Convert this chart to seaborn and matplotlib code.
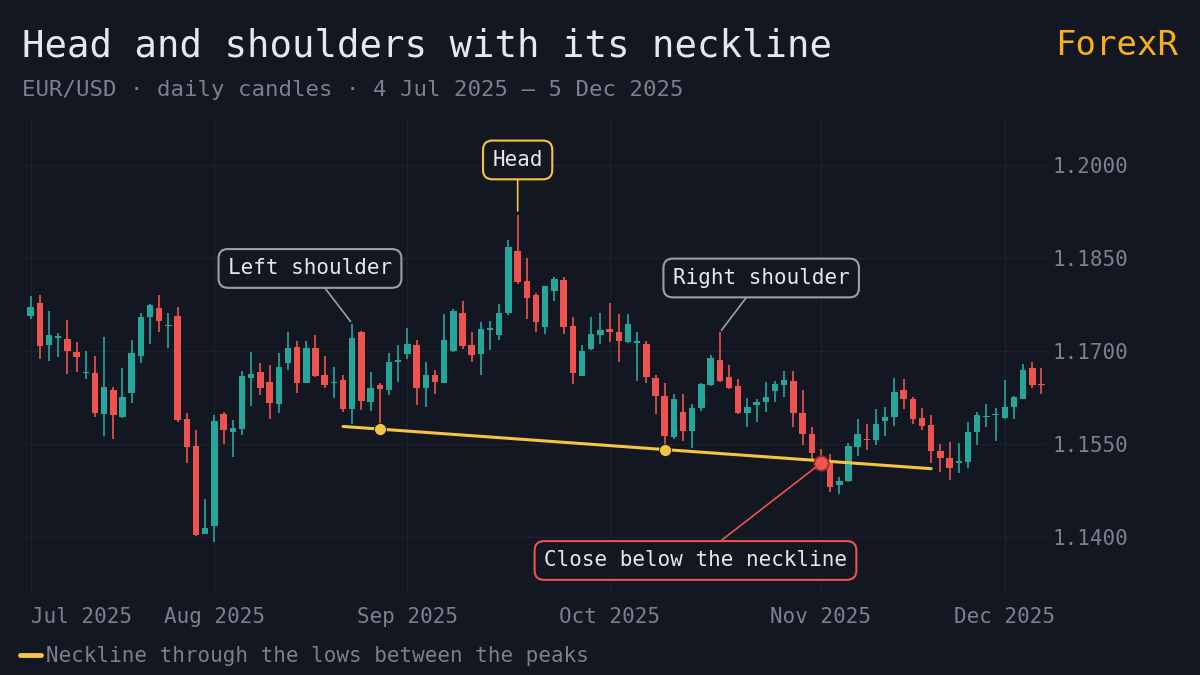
import numpy as np
import pandas as pd
import seaborn as sns
import matplotlib
matplotlib.use("Agg")
import matplotlib.pyplot as plt
from matplotlib.lines import Line2D

# EUR/USD daily candles, 4 Jul 2025 - 5 Dec 2025 (weekdays)
opens = [1.1756, 1.1778, 1.1709, 1.1721, 1.1719, 1.1699, 1.1664, 1.1665, 1.1598, 1.1637,
         1.1593, 1.1633, 1.1692, 1.1754, 1.1770, 1.1740, 1.1756, 1.1591, 1.1547, 1.1405,
         1.1417, 1.1598, 1.1570, 1.1574, 1.1657, 1.1666, 1.1650, 1.1615, 1.1680, 1.1706,
         1.1649, 1.1704, 1.1661, 1.1648, 1.1653, 1.1606, 1.1730, 1.1618, 1.1645, 1.1637,
         1.1683, 1.1695, 1.1710, 1.1641, 1.1662, 1.1649, 1.1700, 1.1762, 1.1710, 1.1695,
         1.1734, 1.1726, 1.1762, 1.1861, 1.1813, 1.1790, 1.1739, 1.1797, 1.1815, 1.1740,
         1.1660, 1.1703, 1.1726, 1.1735, 1.1731, 1.1714, 1.1713, 1.1711, 1.1656, 1.1627,
         1.1561, 1.1602, 1.1571, 1.1608, 1.1645, 1.1685, 1.1658, 1.1644, 1.1600, 1.1613,
         1.1617, 1.1635, 1.1645, 1.1652, 1.1600, 1.1566, 1.1531, 1.1521, 1.1484, 1.1490,
         1.1545, 1.1558, 1.1556, 1.1587, 1.1593, 1.1637, 1.1623, 1.1592, 1.1581, 1.1539,
         1.1527, 1.1520, 1.1521, 1.1570, 1.1593, 1.1596, 1.1592, 1.1610, 1.1623, 1.1672,
         1.1647]
highs = [1.1789, 1.1791, 1.1765, 1.1729, 1.1750, 1.1715, 1.1700, 1.1692, 1.1722, 1.1642,
         1.1672, 1.1717, 1.1761, 1.1776, 1.1790, 1.1762, 1.1771, 1.1600, 1.1573, 1.1461,
         1.1597, 1.1602, 1.1588, 1.1668, 1.1699, 1.1680, 1.1677, 1.1697, 1.1730, 1.1716,
         1.1716, 1.1726, 1.1692, 1.1674, 1.1662, 1.1744, 1.1733, 1.1666, 1.1648, 1.1697,
         1.1709, 1.1737, 1.1718, 1.1682, 1.1669, 1.1760, 1.1767, 1.1781, 1.1731, 1.1746,
         1.1748, 1.1775, 1.1879, 1.1919, 1.1850, 1.1793, 1.1805, 1.1820, 1.1820, 1.1755,
         1.1709, 1.1754, 1.1761, 1.1778, 1.1759, 1.1759, 1.1731, 1.1716, 1.1661, 1.1648,
         1.1631, 1.1630, 1.1615, 1.1648, 1.1694, 1.1730, 1.1677, 1.1655, 1.1624, 1.1622,
         1.1650, 1.1652, 1.1668, 1.1667, 1.1637, 1.1577, 1.1542, 1.1534, 1.1497, 1.1552,
         1.1591, 1.1582, 1.1606, 1.1609, 1.1656, 1.1654, 1.1625, 1.1608, 1.1597, 1.1550,
         1.1553, 1.1551, 1.1586, 1.1601, 1.1615, 1.1608, 1.1653, 1.1627, 1.1679, 1.1682,
         1.1672]
lows = [1.1751, 1.1687, 1.1684, 1.1691, 1.1663, 1.1666, 1.1654, 1.1594, 1.1563, 1.1558,
        1.1592, 1.1616, 1.1680, 1.1711, 1.1731, 1.1704, 1.1586, 1.1519, 1.1402, 1.1404,
        1.1392, 1.1550, 1.1529, 1.1565, 1.1611, 1.1629, 1.1590, 1.1600, 1.1669, 1.1632,
        1.1648, 1.1658, 1.1640, 1.1624, 1.1601, 1.1583, 1.1604, 1.1603, 1.1574, 1.1629,
        1.1650, 1.1687, 1.1613, 1.1609, 1.1631, 1.1648, 1.1699, 1.1703, 1.1683, 1.1661,
        1.1702, 1.1717, 1.1758, 1.1808, 1.1751, 1.1730, 1.1727, 1.1780, 1.1727, 1.1646,
        1.1659, 1.1702, 1.1712, 1.1715, 1.1683, 1.1713, 1.1652, 1.1649, 1.1598, 1.1541,
        1.1558, 1.1555, 1.1543, 1.1603, 1.1644, 1.1650, 1.1639, 1.1599, 1.1578, 1.1586,
        1.1602, 1.1618, 1.1626, 1.1578, 1.1548, 1.1525, 1.1508, 1.1473, 1.1470, 1.1489,
        1.1530, 1.1540, 1.1548, 1.1563, 1.1579, 1.1606, 1.1583, 1.1573, 1.1519, 1.1505,
        1.1492, 1.1503, 1.1512, 1.1548, 1.1577, 1.1555, 1.1591, 1.1591, 1.1622, 1.1641,
        1.1630]
closes = [1.1771, 1.1708, 1.1726, 1.1723, 1.1700, 1.1691, 1.1666, 1.1600, 1.1642, 1.1596,
          1.1626, 1.1696, 1.1754, 1.1774, 1.1749, 1.1742, 1.1588, 1.1545, 1.1403, 1.1414,
          1.1587, 1.1573, 1.1575, 1.1660, 1.1663, 1.1641, 1.1616, 1.1674, 1.1705, 1.1648,
          1.1705, 1.1660, 1.1645, 1.1650, 1.1606, 1.1721, 1.1620, 1.1641, 1.1638, 1.1683,
          1.1685, 1.1712, 1.1641, 1.1661, 1.1650, 1.1718, 1.1765, 1.1708, 1.1694, 1.1735,
          1.1736, 1.1762, 1.1867, 1.1811, 1.1785, 1.1746, 1.1804, 1.1816, 1.1738, 1.1665,
          1.1700, 1.1727, 1.1734, 1.1730, 1.1716, 1.1743, 1.1715, 1.1658, 1.1628, 1.1563,
          1.1623, 1.1571, 1.1608, 1.1647, 1.1688, 1.1652, 1.1641, 1.1600, 1.1610, 1.1618,
          1.1625, 1.1646, 1.1653, 1.1600, 1.1566, 1.1536, 1.1519, 1.1481, 1.1491, 1.1547,
          1.1566, 1.1556, 1.1582, 1.1594, 1.1634, 1.1622, 1.1591, 1.1579, 1.1538, 1.1528,
          1.1512, 1.1522, 1.1569, 1.1596, 1.1595, 1.1598, 1.1609, 1.1625, 1.1670, 1.1645,
          1.1645]

# pattern points (candle indices)
neck_lows = [38, 69]          # lows the neckline passes through
neck_span = [34, 98]          # where the neckline is drawn
left_shoulder, head, right_shoulder = 35, 53, 75
break_idx = 86                # first close below the neckline

month_labels = ["Jul 2025", "Aug 2025", "Sep 2025", "Oct 2025", "Nov 2025", "Dec 2025"]
y_ticks = [1.1400, 1.1550, 1.1700, 1.1850, 1.2000]

dates = pd.bdate_range("2025-07-04", "2025-12-05")
df = pd.DataFrame({"date": dates, "open": opens, "high": highs, "low": lows, "close": closes})
df["i"] = np.arange(len(df))
df["up"] = df["close"] >= df["open"]

BG = "#131722"
GRID = "#1c212c"
GREEN = "#26a69a"
RED = "#ef5350"
YELLOW = "#f5c542"
GOLD = "#f5b01a"
MUTED = "#7b808c"
TEXT = "#e6e8eb"

sns.set_theme(style="dark", rc={
    "figure.facecolor": BG, "axes.facecolor": BG, "savefig.facecolor": BG,
    "axes.edgecolor": BG, "grid.color": GRID, "text.color": TEXT,
    "xtick.color": MUTED, "ytick.color": MUTED,
})
plt.rcParams["font.family"] = ["DejaVu Sans Mono", "DejaVu Sans"]

fig = plt.figure(figsize=(12, 6.75), dpi=100)
ax = fig.add_axes([0.0183, 0.123, 0.8542, 0.6993])

colors = np.where(df["up"], GREEN, RED)

# wicks and bodies
ax.vlines(df["i"], df["low"], df["high"], colors=colors, lw=1.2, zorder=2)
body = (df["close"] - df["open"]).abs().clip(lower=0.00025)
bottom = df[["open", "close"]].min(axis=1)
ax.bar(df["i"], body, bottom=bottom, width=0.7, color=colors, linewidth=0, zorder=3)

# neckline through the two lows
x0, x1 = neck_lows
y0, y1 = df.loc[x0, "low"], df.loc[x1, "low"]
slope = (y1 - y0) / (x1 - x0)
nx = np.array(neck_span)
ny = y0 + slope * (nx - x0)
neck = pd.DataFrame({"i": nx, "price": ny})
sns.lineplot(data=neck, x="i", y="price", ax=ax, color=YELLOW, lw=2.2, zorder=4, legend=False)
ax.scatter(neck_lows, [y0, y1], s=75, color=YELLOW, edgecolor=BG, linewidth=0.6, zorder=5)
ax.scatter([break_idx], [df.loc[break_idx, "close"]], s=110, color=RED,
           edgecolor="#8e2a2a", linewidth=1.2, zorder=6)

# callouts
def callout(text, xy, xytext, color, shrink=2):
    ax.annotate(text, xy=xy, xytext=xytext, textcoords="data", ha="center", va="center",
                fontsize=15, color=TEXT, zorder=7,
                bbox=dict(boxstyle="round,pad=0.45,rounding_size=0.45", fc=BG, ec=color, lw=1.5),
                arrowprops=dict(arrowstyle="-", color=color, lw=1.2, shrinkA=0, shrinkB=shrink))

callout("Left shoulder", (left_shoulder, df.loc[left_shoulder, "high"]), (30.4, 1.18331), "#9aa0aa")
callout("Head", (head, df.loc[head, "high"]), (head, 1.20081), YELLOW, shrink=3)
callout("Right shoulder", (right_shoulder, df.loc[right_shoulder, "high"]), (79.5, 1.18177), "#9aa0aa")
callout("Close below the neckline", (break_idx, df.loc[break_idx, "close"]), (72.35, 1.13621), RED, shrink=5)

# axes
ax.set_xlim(-0.94, 110.6)
ax.set_ylim(1.13113, 1.20726)
month_pos = df.groupby(df["date"].dt.to_period("M"))["i"].min().tolist()
ax.set_xticks(month_pos)
ax.set_xticklabels(month_labels)
ax.get_xticklabels()[0].set_ha("left")
ax.yaxis.tick_right()
ax.set_yticks(y_ticks)
ax.set_yticklabels([f"{v:.4f}" for v in y_ticks])
ax.tick_params(axis="x", length=0, pad=11, labelsize=15, colors=MUTED)
ax.tick_params(axis="y", length=0, pad=4, labelsize=15, colors=MUTED)
ax.grid(True, color=GRID, lw=1)
ax.set_xlabel("")
ax.set_ylabel("")
for s in ax.spines.values():
    s.set_visible(False)

# titles
fig.text(0.0183, 0.932, "Head and shoulders with its neckline", fontsize=26.9, color=TEXT, va="center")
fig.text(0.0183, 0.867, "EUR/USD \u00b7 daily candles \u00b7 4 Jul 2025 \u2013 5 Dec 2025",
         fontsize=16.1, color=MUTED, va="center")
fig.text(0.9817, 0.932, "ForexR", fontsize=24.5, color=GOLD, ha="right", va="center")

handle = Line2D([0], [0], color=YELLOW, lw=3.5)
fig.legend([handle], ["Neckline through the lows between the peaks"], loc="center left",
           bbox_to_anchor=(0.017, 1 - 656 / 675), frameon=False, fontsize=15,
           handlelength=1.0, handletextpad=0.25, borderpad=0, borderaxespad=0, labelcolor=MUTED)

fig.savefig("out.png", dpi=100)
